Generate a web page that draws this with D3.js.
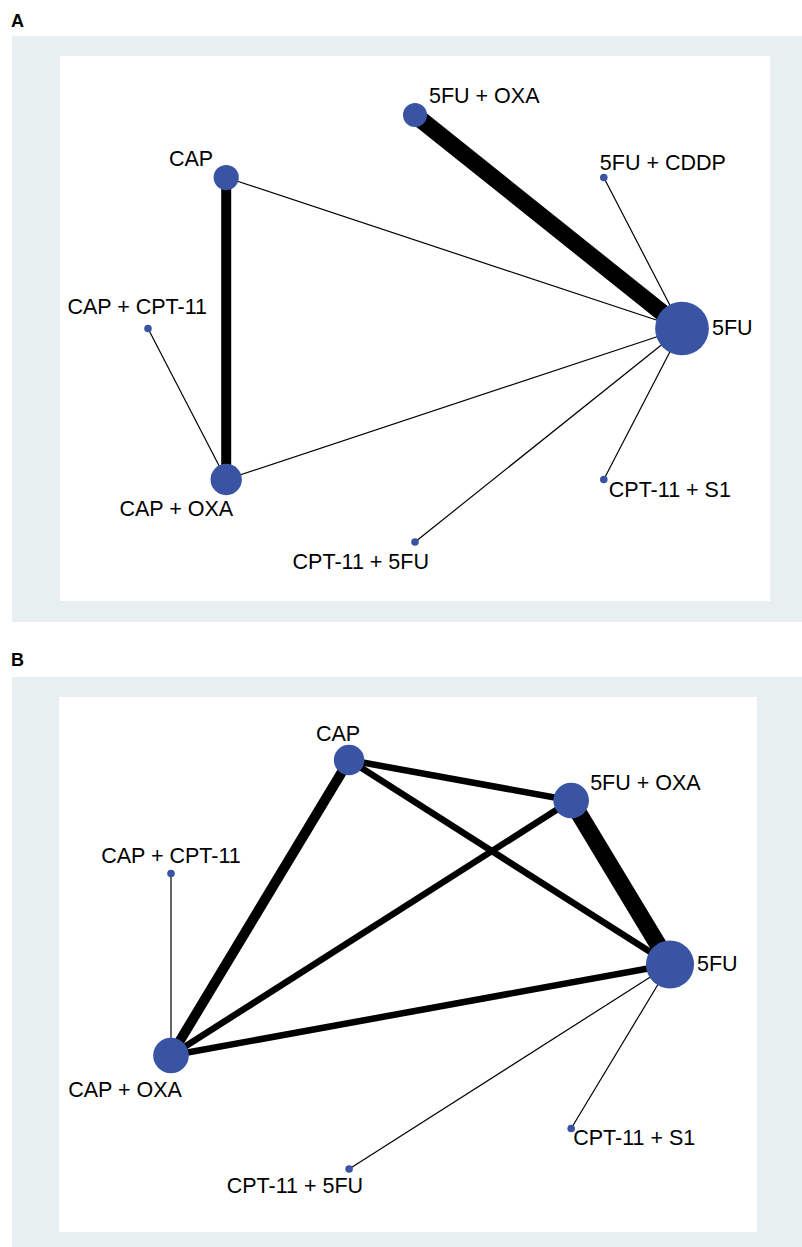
<!DOCTYPE html>
<html>
<head>
<meta charset="utf-8">
<script src="https://cdn.jsdelivr.net/npm/d3@7"></script>
<style>
  body { margin: 0; background: #fff; }
  text { font-family: "Liberation Sans", Arial, sans-serif; }
</style>
</head>
<body>
<div id="chart"></div>
<script>
// treatments in plot order (counter-clockwise from 3 o'clock)
const treatmentsA = ["5FU", "5FU + CDDP", "5FU + OXA", "CAP", "CAP + CPT-11", "CAP + OXA", "CPT-11 + 5FU", "CPT-11 + S1"];
const nodeWeightA = [50, 1, 10, 11, 1, 17, 1, 1];
const edgesA = [
  ["5FU", "5FU + OXA", 5],
  ["CAP", "CAP + OXA", 3],
  ["CAP", "5FU", 1],
  ["CAP + OXA", "5FU", 1],
  ["CAP + CPT-11", "CAP + OXA", 1],
  ["5FU + CDDP", "5FU", 1],
  ["CPT-11 + 5FU", "5FU", 1],
  ["CPT-11 + S1", "5FU", 1]
];

const treatmentsB = ["5FU", "5FU + OXA", "CAP", "CAP + CPT-11", "CAP + OXA", "CPT-11 + 5FU", "CPT-11 + S1"];
const nodeWeightB = [40, 22, 16, 1, 22, 1, 1];
const edgesB = [
  ["5FU + OXA", "5FU", 5],
  ["CAP", "CAP + OXA", 3],
  ["CAP", "5FU + OXA", 2],
  ["CAP", "5FU", 2],
  ["5FU + OXA", "CAP + OXA", 2],
  ["CAP + OXA", "5FU", 2],
  ["CAP + CPT-11", "CAP + OXA", 1],
  ["CPT-11 + 5FU", "5FU", 1],
  ["CPT-11 + S1", "5FU", 1]
];

const W = 802, H = 1247;
const svg = d3.select("#chart").append("svg")
  .attr("width", W).attr("height", H);

const radius = d3.scaleSqrt().domain([0, 1]).range([0, 3.8]);
const edgeWidth = d3.scaleLinear().domain([1, 2, 5]).range([1.2, 6.5, 17]);

function panel(opts) {
  let g = svg.append("g");

  g.append("rect")
    .attr("x", opts.outer[0]).attr("y", opts.outer[1])
    .attr("width", opts.outer[2]).attr("height", opts.outer[3])
    .attr("fill", "#e8eff1");
  g.append("rect")
    .attr("x", opts.inner[0]).attr("y", opts.inner[1])
    .attr("width", opts.inner[2]).attr("height", opts.inner[3])
    .attr("fill", "#fff");

  g.append("text")
    .attr("x", 11).attr("y", opts.letterY)
    .attr("font-size", 18).attr("font-weight", "bold")
    .text(opts.letter);

  // nodes sit on an ellipse, evenly spaced
  let xScale = d3.scaleLinear().domain([-1, 1]).range(opts.xRange);
  let yScale = d3.scaleLinear().domain([-1, 1]).range(opts.yRange);
  let n = opts.names.length;
  let nodes = opts.names.map((name, i) => {
    let a = 2 * Math.PI * i / n;
    return { name: name, w: opts.weights[i], x: xScale(Math.cos(a)), y: yScale(Math.sin(a)) };
  });
  let byName = {};
  nodes.forEach(d => byName[d.name] = d);

  g.selectAll(".edge")
    .data(opts.edges)
    .enter()
    .append("line")
    .attr("x1", d => byName[d[0]].x)
    .attr("y1", d => byName[d[0]].y)
    .attr("x2", d => byName[d[1]].x)
    .attr("y2", d => byName[d[1]].y)
    .attr("stroke", "#000")
    .attr("stroke-width", d => edgeWidth(d[2]));

  g.selectAll(".node")
    .data(nodes)
    .enter()
    .append("circle")
    .attr("cx", d => d.x)
    .attr("cy", d => d.y)
    .attr("r", d => radius(d.w))
    .attr("fill", "#3a54a4");

  g.selectAll(".lab")
    .data(nodes)
    .enter()
    .append("text")
    .attr("font-size", 21.5)
    .attr("text-anchor", d => opts.labels[d.name][0])
    .attr("x", d => d.x + opts.labels[d.name][1])
    .attr("y", d => d.y + opts.labels[d.name][2])
    .text(d => d.name);
}

panel({
  letter: "A", letterY: 27,
  outer: [12, 36, 790, 586], inner: [60, 56, 710, 545],
  xRange: [148, 682], yRange: [542, 115],
  names: treatmentsA, weights: nodeWeightA, edges: edgesA,
  labels: {
    "5FU": ["start", 30, 6],
    "5FU + CDDP": ["start", -4, -8],
    "5FU + OXA": ["start", 14, -12],
    "CAP": ["end", -13, -12],
    "CAP + CPT-11": ["end", 59, -15],
    "CAP + OXA": ["end", 7, 37],
    "CPT-11 + 5FU": ["end", 14, 27],
    "CPT-11 + S1": ["start", 5, 18]
  }
});

panel({
  letter: "B", letterY: 666,
  outer: [12, 677, 790, 570], inner: [59, 697, 698, 535],
  xRange: [145, 670], yRange: [1174.2, 754.8],
  names: treatmentsB, weights: nodeWeightB, edges: edgesB,
  labels: {
    "5FU": ["start", 27, 6],
    "5FU + OXA": ["start", 19, -11],
    "CAP": ["middle", -11, -19],
    "CAP + CPT-11": ["middle", 0, -11],
    "CAP + OXA": ["middle", -46, 42],
    "CPT-11 + 5FU": ["end", 14, 24],
    "CPT-11 + S1": ["start", 2, 17]
  }
});
</script>
</body>
</html>
